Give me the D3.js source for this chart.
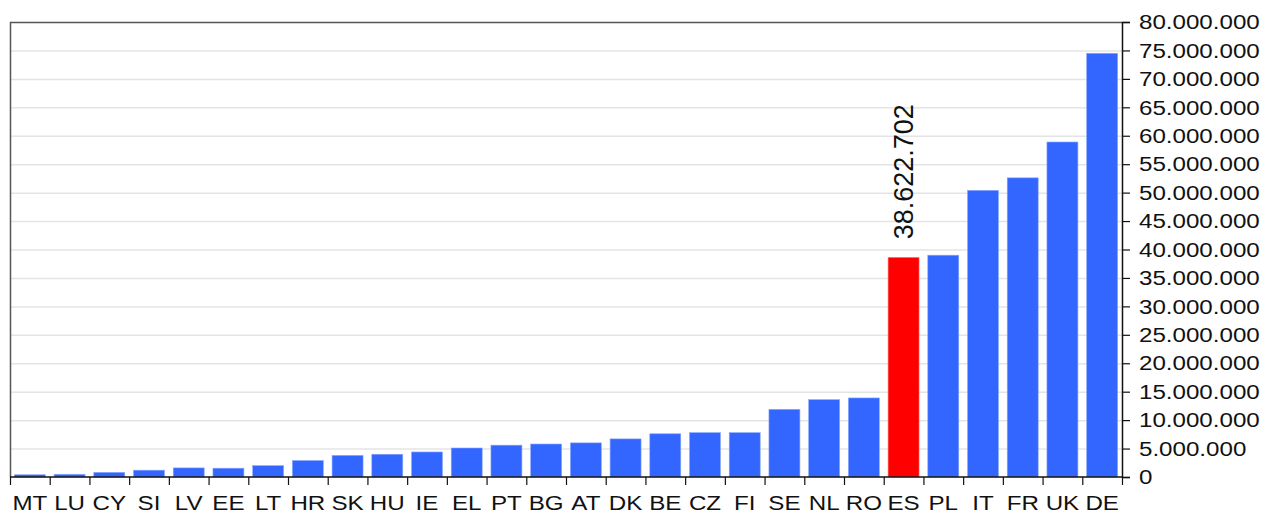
<!DOCTYPE html>
<html>
<head>
<meta charset="utf-8">
<script src="https://cdn.jsdelivr.net/npm/d3@7"></script>
<style>
  body { margin: 0; background: #fff; }
  svg text { font-family: "Liberation Sans", Arial, sans-serif; fill: #111; }
</style>
</head>
<body>
<div id="chart"></div>
<script>
let countries = ["MT", "LU", "CY", "SI", "LV", "EE", "LT", "HR", "SK", "HU", "IE", "EL", "PT", "BG",
  "AT", "DK", "BE", "CZ", "FI", "SE", "NL", "RO", "ES", "PL", "IT", "FR", "UK", "DE"];
let values = [400000, 480000, 820000, 1200000, 1600000, 1550000, 2000000, 2900000, 3800000, 4000000,
  4400000, 5100000, 5600000, 5800000, 6000000, 6700000, 7600000, 7800000, 7800000, 11900000,
  13600000, 13900000, 38622702, 39000000, 50400000, 52600000, 58900000, 74500000];
let highlight = "ES";
let yTicks = d3.range(0, 80000001, 5000000);

let width = 1280;
let height = 515;
let plotLeft = 10;
let plotRight = 1122;
let plotTop = 22;
let plotBottom = 477;
let stretch = 1.15;   // the text in the picture is a bit wider than plain Arial

let fmt = function(v) {
  return d3.format(",")(v).replace(/,/g, ".");
};

let svg = d3.select("#chart")
  .append("svg")
  .attr("width", width)
  .attr("height", height);

let xScale = d3.scaleBand()
  .domain(countries)
  .range([plotLeft, plotRight])
  .paddingInner(0.22)
  .paddingOuter(0.11);

let yScale = d3.scaleLinear()
  .domain([0, 80000000])
  .range([plotBottom, plotTop]);

// grid lines
svg.append("g")
  .selectAll("line")
  .data(yTicks.slice(1, -1))
  .enter()
  .append("line")
  .attr("x1", plotLeft)
  .attr("x2", plotRight)
  .attr("y1", d => yScale(d) + 0.5)
  .attr("y2", d => yScale(d) + 0.5)
  .attr("stroke", "#e4e4e4")
  .attr("stroke-width", 1.5);

// frame top + left
svg.append("path")
  .attr("d", "M" + (plotLeft + 0.5) + "," + plotBottom + "V" + (plotTop + 0.5) + "H" + plotRight)
  .attr("fill", "none")
  .attr("stroke", "#555")
  .attr("stroke-width", 1.5);

// bars
svg.append("g")
  .selectAll("rect")
  .data(countries)
  .enter()
  .append("rect")
  .attr("x", d => xScale(d))
  .attr("width", xScale.bandwidth())
  .attr("y", (d, i) => yScale(values[i]))
  .attr("height", (d, i) => plotBottom - yScale(values[i]))
  .attr("fill", d => d === highlight ? "#ff0000" : "#3366ff")
  .attr("stroke", d => d === highlight ? "#ff8080" : "#8aa8ff")
  .attr("stroke-width", 0.6);

// value label on highlight
let hi = countries.indexOf(highlight);
let hx = xScale(highlight) + xScale.bandwidth() / 2;
let hy = yScale(values[hi]) - 18;
svg.append("text")
  .attr("transform", "translate(" + (hx + 9) + "," + hy + ")rotate(-90)")
  .attr("font-size", 27)
  .attr("text-anchor", "start")
  .text(fmt(values[hi]));

// x axis
let xAxis = svg.append("g")
  .attr("transform", "translate(0," + plotBottom + ")");
xAxis.append("line")
  .attr("x1", plotLeft)
  .attr("x2", plotRight)
  .attr("stroke", "#111")
  .attr("stroke-width", 1.5);
xAxis.selectAll(".xt")
  .data(d3.range(countries.length + 1))
  .enter()
  .append("line")
  .attr("class", "xt")
  .attr("x1", i => plotLeft + 0.5 + i * (plotRight - plotLeft) / countries.length)
  .attr("x2", i => plotLeft + 0.5 + i * (plotRight - plotLeft) / countries.length)
  .attr("y1", 0)
  .attr("y2", 8)
  .attr("stroke", "#111")
  .attr("stroke-width", 1.2);
xAxis.selectAll("text")
  .data(countries)
  .enter()
  .append("text")
  .attr("transform", d => "translate(" + (xScale(d) + xScale.bandwidth() / 2) + ",33)scale(" + stretch + ",1)")
  .attr("text-anchor", "middle")
  .attr("font-size", 21)
  .text(d => d);

// y axis on the right
let yAxis = d3.axisRight(yScale)
  .tickValues(yTicks)
  .tickSize(8)
  .tickPadding(4)
  .tickFormat(fmt);
let yG = svg.append("g")
  .attr("transform", "translate(" + plotRight + ",0)")
  .call(yAxis);
yG.select(".domain").attr("stroke", "#111").attr("stroke-width", 1.5);
yG.selectAll(".tick line").attr("stroke", "#111").attr("stroke-width", 1.2);
yG.selectAll(".tick text")
  .attr("x", 17 / stretch)
  .attr("transform", "scale(" + stretch + ",1)")
  .attr("font-size", 21)
  .attr("fill", "#111")
  .style("font-family", "'Liberation Sans', Arial, sans-serif");
</script>
</body>
</html>
